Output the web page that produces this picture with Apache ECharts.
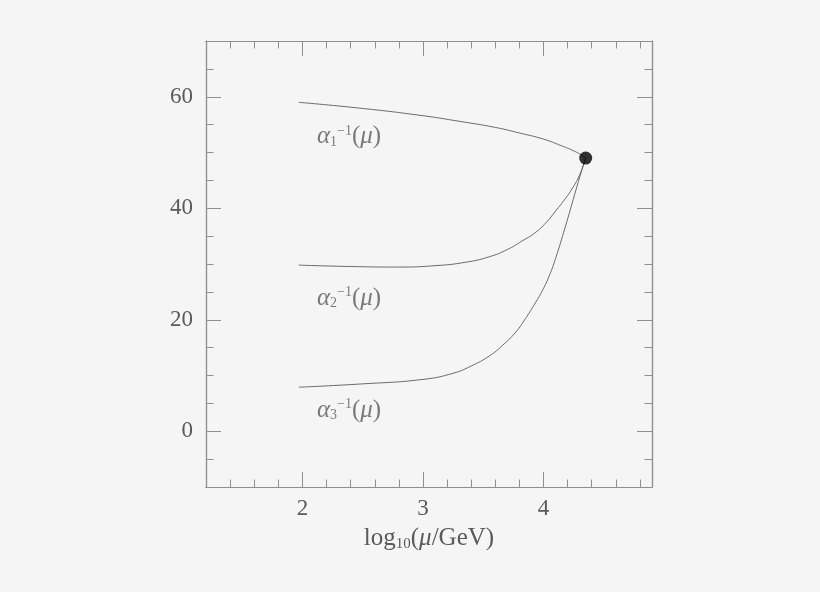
<!DOCTYPE html>
<html>
<head>
<meta charset="utf-8">
<script src="https://cdn.jsdelivr.net/npm/echarts@6/dist/echarts.min.js"></script>
<style>
  html, body { margin: 0; padding: 0; background: #f5f5f5; }
  #chart { width: 820px; height: 592px; }
</style>
</head>
<body>
<div id="chart"></div>
<script>
// inverse couplings vs log10(mu/GeV)
const alpha1 = [[1.97, 59.0], [2.5, 57.9], [3.0, 56.6], [3.3, 55.6], [3.6, 54.5], [3.8, 53.5],
  [4.0, 52.4], [4.15, 51.2], [4.25, 50.3], [4.31, 49.6], [4.35, 49.0]]
const alpha2 = [[1.97, 29.8], [2.4, 29.55], [2.8, 29.45], [3.1, 29.7], [3.35, 30.3], [3.55, 31.3],
  [3.7, 32.6], [3.82, 34.1], [3.93, 35.6], [4.02, 37.4], [4.1, 39.5], [4.18, 41.7],
  [4.24, 43.6], [4.3, 46.0], [4.35, 49.0]]
const alpha3 = [[1.97, 7.9], [2.5, 8.5], [3.0, 9.3], [3.25, 10.4], [3.4, 11.7], [3.55, 13.5],
  [3.66, 15.4], [3.77, 17.8], [3.85, 20.2], [3.92, 22.6], [3.99, 25.2], [4.05, 28.0],
  [4.1, 31.0], [4.18, 36.6], [4.26, 42.6], [4.32, 47.0], [4.35, 49.0]]
const unification = [[4.35, 49.0]]

// where the curve names sit (data coords) and their subscripts
const curveLabels = [[2.12, 52.8, '1'], [2.12, 23.9, '2'], [2.12, 3.8, '3']]

const xMajor = [2, 3, 4]
const yMajor = [0, 20, 40, 60]

const lineColor = '#6a6a6a'
const frameColor = '#909090'
const textColor = '#5a5a5a'
const serif = 'Liberation Serif'

const chart = echarts.init(document.getElementById('chart'))

// four stacked grids at the same place: each holds one x and one y axis,
// so the short and long ticks of every side can be drawn separately
const gridBox = { left: 206, right: 168, top: 41, bottom: 105, containLabel: false }
const sides = [
  { x: 'bottom', y: 'left', major: false },
  { x: 'bottom', y: 'left', major: true },
  { x: 'top', y: 'right', major: false },
  { x: 'top', y: 'right', major: true }
]

function tick(major, values) {
  return major
    ? { show: true, inside: true, length: 15, customValues: values, lineStyle: { color: frameColor } }
    : { show: true, inside: true, length: 7.5, lineStyle: { color: frameColor } }
}
const line = { show: true, onZero: false, lineStyle: { color: frameColor, width: 1.2 } }

const xAxes = sides.map((s, i) => ({
  type: 'value', gridIndex: i, position: s.x, min: 1.2, max: 4.9, interval: 0.2,
  axisLine: line, axisTick: tick(s.major, xMajor), splitLine: { show: false },
  axisLabel: i === 0
    ? { show: true, customValues: xMajor, margin: 10, color: textColor, fontFamily: serif, fontSize: 23 }
    : { show: false }
}))
const yAxes = sides.map((s, i) => ({
  type: 'value', gridIndex: i, position: s.y, min: -10, max: 70, interval: 5,
  axisLine: line, axisTick: tick(s.major, yMajor), splitLine: { show: false },
  axisLabel: i === 0
    ? { show: true, customValues: yMajor, margin: 13, color: textColor, fontFamily: serif, fontSize: 23 }
    : { show: false }
}))

xAxes[0].name = 'log{s|10}({i|μ}/GeV)'
xAxes[0].nameLocation = 'middle'
xAxes[0].nameGap = 37
xAxes[0].nameTextStyle = {
  color: textColor, fontFamily: serif, fontSize: 25,
  rich: {
    s: { fontSize: 15, verticalAlign: 'bottom', color: textColor, fontFamily: serif, lineHeight: 28 },
    i: { fontStyle: 'italic', fontSize: 25, color: textColor, fontFamily: serif }
  }
}

const richName = {
  g: { fontStyle: 'italic', fontSize: 25, color: textColor, fontFamily: serif },
  p: { fontSize: 25, color: textColor, fontFamily: serif },
  sub: { fontSize: 14, verticalAlign: 'bottom', color: textColor, fontFamily: serif, lineHeight: 25 },
  sup: { fontSize: 14, verticalAlign: 'top', color: textColor, fontFamily: serif, lineHeight: 25 }
}

function curve(data) {
  return {
    type: 'line', data: data, smooth: 0.5, showSymbol: false, silent: true,
    lineStyle: { color: lineColor, width: 1 }, z: 2
  }
}

chart.setOption({
  backgroundColor: '#f5f5f5',
  animation: false,
  grid: sides.map(() => Object.assign({}, gridBox)),
  xAxis: xAxes,
  yAxis: yAxes,
  series: [
    curve(alpha1),
    curve(alpha2),
    curve(alpha3),
    {
      type: 'scatter', data: unification, symbolSize: 13, silent: true, z: 3,
      itemStyle: { color: '#000' }
    },
    {
      type: 'scatter', silent: true, symbolSize: 0,
      data: curveLabels.map(d => ({ value: [d[0], d[1]], sub: d[2] })),
      label: {
        show: true, position: 'right', distance: 0,
        formatter: p => '{g|α}{sub|' + p.data.sub + '}{sup|−1}{p|(}{g|μ}{p|)}',
        rich: richName
      }
    }
  ]
})
</script>
</body>
</html>
